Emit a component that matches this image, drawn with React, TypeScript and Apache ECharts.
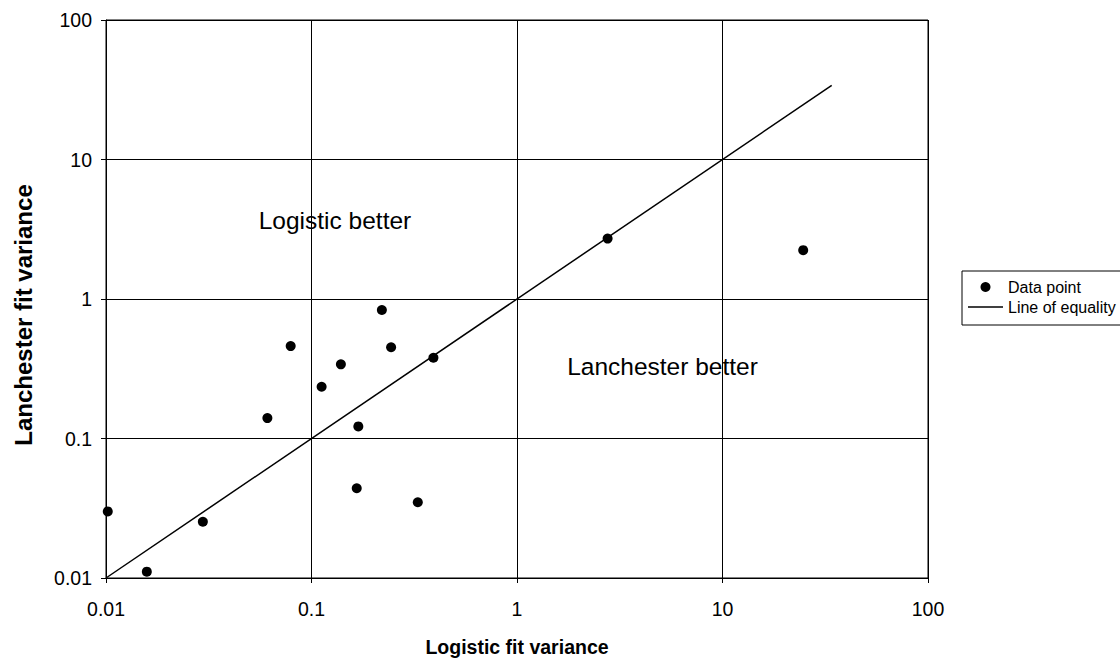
import React, { useEffect, useRef } from "react";
import * as echarts from "echarts";

const logisticVariance = [0.0102, 0.0158, 0.0296, 0.061, 0.0792, 0.112, 0.139, 0.169, 0.166, 0.22, 0.244, 0.329, 0.392, 2.76, 24.7];
const lanchesterVariance = [0.03, 0.0111, 0.0253, 0.14, 0.46, 0.235, 0.34, 0.122, 0.044, 0.834, 0.451, 0.0349, 0.379, 2.71, 2.24];
const equalityLine = [0.01, 34];
const seriesNames = ["Data point", "Line of equality"];
const axisTitles = { x: "Logistic fit variance", y: "Lanchester fit variance" };
const annotations = ["Logistic better", "Lanchester better"];

const FONT = "'Liberation Sans', Arial, Helvetica, sans-serif";

export default function App() {
  const ref = useRef<HTMLDivElement>(null);
  useEffect(() => {
    if (!ref.current) return;
    const chart = echarts.init(ref.current, undefined, { renderer: "svg" });
    const points = logisticVariance.map((x, i) => [x, lanchesterVariance[i]]);
    const axisCommon = {
      type: "log" as const,
      logBase: 10,
      min: 0.01,
      max: 100,
      axisLine: { show: true, lineStyle: { color: "#000", width: 1 } },
      axisTick: { show: true, inside: false, length: 5, lineStyle: { color: "#000" } },
      minorTick: { show: false },
      splitLine: { show: true, lineStyle: { color: "#000", width: 1 } },
      axisLabel: {
        color: "#000",
        fontFamily: FONT,
        fontSize: 19.5,
        formatter: (v: number) => String(Number(v.toPrecision(6))),
      },
    };
    chart.setOption({
      animation: false,
      backgroundColor: "#fff",
      textStyle: { fontFamily: FONT },
      grid: {
        left: 106,
        right: 192,
        top: 20,
        bottom: 80,
        show: true,
        borderColor: "#000",
        borderWidth: 1,
      },
      xAxis: { ...axisCommon, axisLabel: { ...axisCommon.axisLabel, margin: 21 } },
      yAxis: { ...axisCommon, axisLabel: { ...axisCommon.axisLabel, margin: 14 } },
      legend: {
        data: [
          { name: seriesNames[0], icon: "circle" },
          { name: seriesNames[1], icon: "path://M0,0 L35,0 L35,1.3 L0,1.3 Z" },
        ],
        orient: "vertical",
        left: 962,
        top: 271,
        itemWidth: 35,
        itemHeight: 10,
        itemGap: 4,
        padding: [8, 10, 10, 6],
        borderColor: "#000",
        borderWidth: 1,
        itemStyle: { color: "#000", opacity: 1 },
        textStyle: { color: "#000", fontSize: 16, fontFamily: FONT },
      },
      graphic: [
        {
          type: "text",
          x: 517,
          y: 646.5,
          style: {
            text: axisTitles.x,
            fontFamily: FONT,
            fontWeight: "bold",
            fontSize: 19.5,
            fill: "#000",
            align: "center",
            verticalAlign: "middle",
          },
        },
        {
          type: "text",
          x: 23,
          y: 315,
          rotation: Math.PI / 2,
          style: {
            text: axisTitles.y,
            fontFamily: FONT,
            fontWeight: "bold",
            fontSize: 24,
            fill: "#000",
            align: "center",
            verticalAlign: "middle",
          },
        },
        {
          type: "text",
          x: 335,
          y: 220.5,
          style: {
            text: annotations[0],
            fontFamily: FONT,
            fontSize: 24.5,
            fill: "#000",
            align: "center",
            verticalAlign: "middle",
          },
        },
        {
          type: "text",
          x: 662.5,
          y: 366,
          style: {
            text: annotations[1],
            fontFamily: FONT,
            fontSize: 24.5,
            fill: "#000",
            align: "center",
            verticalAlign: "middle",
          },
        },
      ],
      series: [
        {
          name: seriesNames[0],
          type: "scatter",
          data: points,
          symbol: "circle",
          symbolSize: 10,
          itemStyle: { color: "#000", opacity: 1 },
          z: 3,
        },
        {
          name: seriesNames[1],
          type: "line",
          data: [
            [equalityLine[0], equalityLine[0]],
            [equalityLine[1], equalityLine[1]],
          ],
          symbol: "none",
          showSymbol: false,
          lineStyle: { color: "#000", width: 1.5 },
          itemStyle: { color: "#000" },
          z: 2,
        },
      ],
    });
    return () => chart.dispose();
  }, []);
  return <div ref={ref} style={{ width: 1120, height: 658, position: "absolute", left: 0, top: 0 }} />;
}
